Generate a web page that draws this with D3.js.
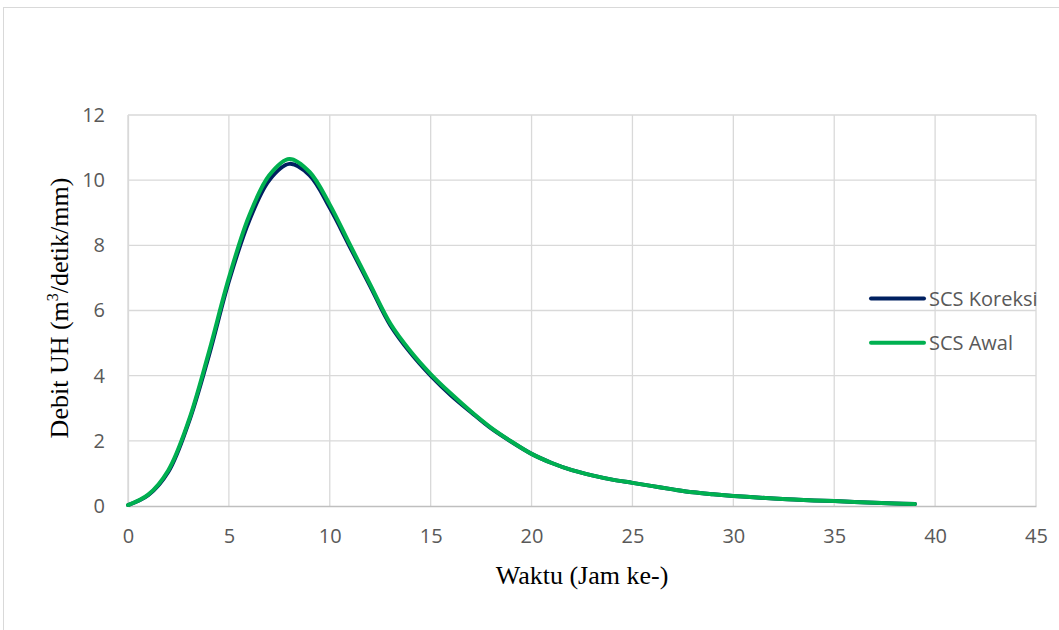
<!DOCTYPE html>
<html><head><meta charset="utf-8">
<script src="https://cdn.jsdelivr.net/npm/d3@7"></script>
<style>html,body{margin:0;padding:0;background:#fff;}svg{display:block;}</style>
</head><body>
<svg id="chart" width="1059" height="630"></svg>
<script>
const hours = d3.range(0, 40);
const scsKoreksi = [0.03,0.33,1.05,2.55,4.6,6.9,8.75,10.0,10.5,10.15,9.15,7.95,6.75,5.55,4.7,4.0,3.4,2.88,2.38,1.97,1.6,1.32,1.1,0.94,0.81,0.71,0.61,0.51,0.42,0.36,0.31,0.27,0.23,0.2,0.17,0.15,0.12,0.1,0.08,0.06];
const scsAwal    = [0.03,0.35,1.1,2.6,4.7,7.0,8.9,10.15,10.65,10.25,9.25,8.02,6.8,5.6,4.75,4.05,3.45,2.9,2.4,1.98,1.6,1.32,1.1,0.94,0.81,0.71,0.61,0.51,0.42,0.36,0.31,0.27,0.23,0.2,0.17,0.15,0.12,0.1,0.08,0.06];
const seriesNames = ["SCS Koreksi", "SCS Awal"];
const seriesColors = ["#002060", "#00B050"];
const xTicks = [0,5,10,15,20,25,30,35,40,45];
const yTicks = [0,2,4,6,8,10,12];

const svg = d3.select("#chart");
svg.append("rect").attr("x",3.5).attr("y",7.5).attr("width",1100).attr("height",700)
  .attr("fill","#fff").attr("stroke","#d9d9d9").attr("stroke-width",1);

const x = d3.scaleLinear().domain([0,45]).range([128,1036]);
const y = d3.scaleLinear().domain([0,12]).range([506,115]);

const grid = svg.append("g");
grid.selectAll("line.h").data(yTicks.filter(d=>d>0)).join("line")
  .attr("x1",x(0)).attr("x2",x(45)).attr("y1",d=>y(d)).attr("y2",d=>y(d))
  .attr("stroke","#d9d9d9").attr("stroke-width",1.3);
grid.selectAll("line.v").data(xTicks).join("line")
  .attr("y1",y(0)).attr("y2",y(12)).attr("x1",d=>x(d)).attr("x2",d=>x(d))
  .attr("stroke","#d9d9d9").attr("stroke-width",1.3);

const xAxis = svg.append("g").attr("transform",`translate(0,${y(0)})`)
  .call(d3.axisBottom(x).tickValues(xTicks).tickSize(0).tickPadding(24));
xAxis.select(".domain").attr("stroke","#bfbfbf").attr("stroke-width",1.5);
xAxis.selectAll("text").attr("fill","#595959").attr("font-family","'Open Sans', sans-serif").attr("font-size",20).attr("dy","0.32em").attr("y",31);

const yAxis = svg.append("g").attr("transform",`translate(${x(0)},0)`)
  .call(d3.axisLeft(y).tickValues(yTicks).tickSize(0).tickPadding(23));
yAxis.select(".domain").attr("stroke","#d9d9d9").attr("stroke-width",1.3);
yAxis.selectAll("text").attr("fill","#595959").attr("font-family","'Open Sans', sans-serif").attr("font-size",20);

const line = d3.line().x((d,i)=>x(hours[i])).y(d=>y(d)).curve(d3.curveCatmullRom.alpha(0.5));
[scsKoreksi, scsAwal].forEach((s,i)=>{
  svg.append("path").attr("d",line(s)).attr("fill","none")
    .attr("stroke",seriesColors[i]).attr("stroke-width",4).attr("stroke-linecap","round").attr("stroke-linejoin","round");
});

const lg = svg.append("g");
seriesNames.forEach((n,i)=>{
  const ly = 298.5 + i*44.3;
  lg.append("line").attr("x1",871).attr("x2",924).attr("y1",ly).attr("y2",ly)
    .attr("stroke",seriesColors[i]).attr("stroke-width",4).attr("stroke-linecap","round");
  lg.append("text").attr("x",929).attr("y",ly).attr("dy","0.35em")
    .attr("fill","#595959").attr("font-family","'Open Sans', sans-serif").attr("font-size",20).text(n);
});

svg.append("text").attr("x",582).attr("y",584).attr("text-anchor","middle")
  .attr("font-family","'Liberation Serif', 'Times New Roman', serif").attr("font-size",26).attr("fill","#000")
  .text("Waktu (Jam ke-)");
const yt = svg.append("text").attr("transform","translate(68,308) rotate(-90)").attr("text-anchor","middle")
  .attr("font-family","'Liberation Serif', 'Times New Roman', serif").attr("font-size",26).attr("fill","#000");
yt.append("tspan").text("Debit UH (m");
yt.append("tspan").attr("font-size",16).attr("dy",-10).text("3");
yt.append("tspan").attr("dy",10).text("/detik/mm)");
</script>
</body></html>
